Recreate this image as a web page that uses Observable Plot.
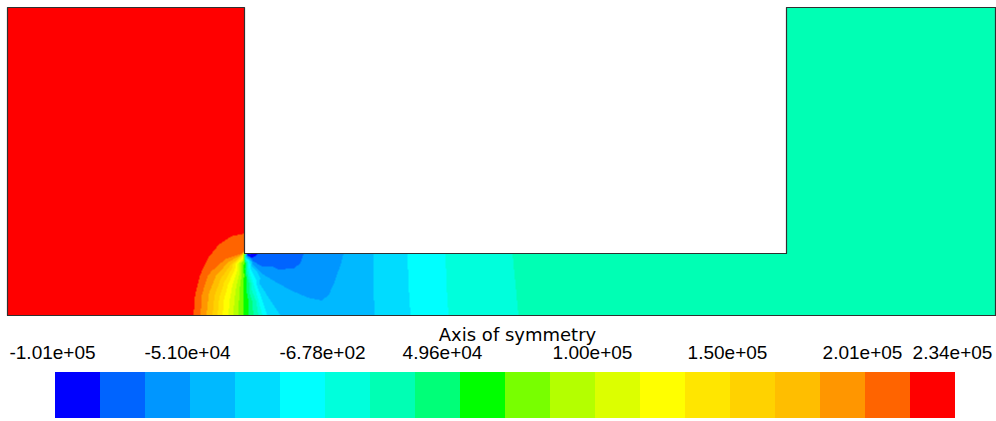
<!DOCTYPE html>
<html><head><meta charset="utf-8">
<script src="https://cdn.jsdelivr.net/npm/d3@7"></script>
<script src="https://cdn.jsdelivr.net/npm/@observablehq/plot@0.6"></script>
<style>
html,body{margin:0;padding:0;background:#fff;}
#chart svg{display:block;}
</style></head><body><div id="chart"></div>
<script>
// ---- Colour bar (static pressure, Pa) ----
const pressureMin = -101200;
const pressureMax = 234000;
const bandCount = 20;
const bandColors = ["#0000ff","#0064ff","#0096ff","#00b9ff","#00dcff","#00ffff","#00ffdc","#00ffb4","#00ff78","#00ff00",
                    "#78ff00","#b4ff00","#dcff00","#ffff00","#ffe600","#ffd200","#ffbe00","#ff9600","#ff6400","#ff0000"];
const tickLabels = ["-1.01e+05","-5.10e+04","-6.78e+02","4.96e+04","1.00e+05","1.50e+05","2.01e+05","2.34e+05"];
const tickBandIndex = [0, 3, 6, 9, 12, 15, 18, 20];
const boundaryLabel = "Axis of symmetry";

// ---- Geometry (mm) ----
const domainLength = 988, domainHeight = 308;
const stepStartX = 237, stepEndX = 779, channelHeight = 62;
const outlineX = [0, 0, 237, 237, 779, 779, 988, 988, 0];
const outlineY = [0, 308, 308, 62, 62, 308, 308, 0, 0];

// ---- Contour lines: level (Pa) and points [x mm, y mm] ----
const isoLevels = [217240, 200480, 183720, 166960, 150200, 133440, 116680, 99920, 83160, 66400,
                   49640, 32880, 16120, -640, -17400, -34160, -50920, -67680, -84440,
                   -34160, -17400, -640, 16120];
const isoPaths = [
  [[237,82],[223.8,79.2],[211.5,71],[200.9,58],[192.8,41],[187.7,21.2],[186,0]],
  [[234,61.7],[217.8,56.4],[204,44.2],[195.8,25.4],[193,0]],
  [[234.2,61],[220.4,53],[208.5,39.6],[201.4,22],[199,0]],
  [[234.5,60.4],[223,50.6],[213,36.5],[207,19.6],[205,0]],
  [[234.8,59.9],[225.2,48.3],[216.8,33.5],[211.7,17.3],[210,0]],
  [[235.3,59.5],[227.4,46.4],[220.5,30.8],[216.4,15.4],[215,0]],
  [[235.7,59.3],[230,45.8],[225,30.1],[222,14.8],[221,0]],
  [[236.1,59.1],[232.2,45.4],[228.8,29.6],[226.7,14.4],[226,0]],
  [[236.5,59],[234.4,45.4],[232.5,29.5],[231.4,14.4],[231,0]],
  [[236.9,59],[236.7,53],[236.3,35],[236,17],[236,0]],
  [[237.1,59],[237.5,53],[239,35],[240.5,17],[241,0]],
  [[237.3,59],[239,47],[242,31],[244.5,15],[246,0]],
  [[237.5,59],[240,47],[244.5,31],[248.5,15],[251,0]],
  [[237.7,59.1],[241.5,47],[246,31],[251,15],[255,0]],
  [[238,59.2],[243,47],[249,31],[255,15],[260,0]],
  [[238.4,59.4],[244,49],[252,32],[263,15],[273,0]],
  [[238.8,59.6],[246,50],[256,41],[269,33],[284,25],[300,18],[314,15],[321,20],[326,31],[331,45],[334,54],[336,62]],
  [[239.2,60],[245.9,54],[255,49],[271,46],[286,47],[293,52],[296,62]],
  [[239.6,60.5],[244,58],[248,59],[250,62]],
  [[366,62],[366,31],[367,0]],
  [[400,62],[401,31],[403,0]],
  [[438,62],[439,31],[441,0]],
  [[505,62],[508,31],[511,0]]
];

// ---- Point readings inside bands: [x mm, y mm, p Pa] ----
const pointReadings = [
  [0,0,234000],[0,150,234000],[0,308,234000],[93,0,234000],[143,0,234000],[170,20,234000],[60,230,234000],
  [120,150,234000],[150,60,234000],[170,100,234000],[215,90,234000],[237,90,234000],[237,150,234000],
  [237,200,234000],[237,308,234000],[120,308,234000],[60,60,234000],
  [237,65,203830],[237,73,210540],
  [240,62,-97800],[243,61,-96000],
  [263,62,-77700],[281,62,-74400],[268,55,-76060],[283,56,-74400],
  [316,62,-59300],[313,50,-59300],[311,32,-57600],[298,35,-59300],[321,53,-59300],[262,43,-59300],
  [351,62,-42540],[348,47,-42540],[343,20,-40860],[318,6,-39190],[293,9,-40860],[278,13,-42540],
  [293,0,-40860],[323,0,-39190],[348,0,-37510],
  [383,62,-25780],[383,31,-25780],[384,0,-25780],[419,62,-9020],[420,31,-9020],[422,0,-9020],
  [471,62,7740],[473,31,7740],[475,0,7740],
  [553,62,24500],[553,31,24500],[555,0,24500],[650,62,24500],[650,31,24500],[650,0,24500],
  [779,62,24500],[779,0,24500],[779,180,24500],[779,308,24500],[880,308,24500],[880,150,24500],
  [880,0,24500],[988,0,24500],[988,150,24500],[988,308,24500]
];

// ---- Build tables ----
const samples = [];
isoPaths.forEach((path, i) => path.forEach(([x, y]) => samples.push({x, y, p: isoLevels[i]})));
pointReadings.forEach(([x, y, p]) => samples.push({x, y, p}));
const bandWidth = (pressureMax - pressureMin) / bandCount;
const edges = d3.range(1, bandCount).map(k => pressureMin + k * bandWidth);
const colorScale = {type: "threshold", domain: edges, range: bandColors};
const outline = outlineX.map((x, i) => ({x, y: outlineY[i]}));
const step = [{x1: stepStartX, x2: stepEndX, y1: channelHeight, y2: domainHeight}];

const main = Plot.plot({
  width: 996, height: 318,
  marginLeft: 7, marginRight: 1, marginTop: 7, marginBottom: 3,
  x: {domain: [0, domainLength], axis: null},
  y: {domain: [0, domainHeight], axis: null},
  color: colorScale,
  marks: [
    Plot.raster(samples, {x: "x", y: "y", fill: "p", interpolate: "barycentric",
      x1: 0, y1: 0, x2: domainLength, y2: domainHeight, pixelSize: 1}),
    Plot.rect(step, {x1: "x1", x2: "x2", y1: "y1", y2: "y2", fill: "white"}),
    Plot.line(outline, {x: "x", y: "y", stroke: "#303030", strokeWidth: 1.2})
  ]
});

const bands = d3.range(bandCount);
const labelFont = "Liberation Sans, Arial, sans-serif";
const legend = Plot.plot({
  width: 996, height: 103,
  marginLeft: 55, marginRight: 41, marginTop: 54, marginBottom: 3,
  x: {domain: [0, bandCount], axis: null},
  y: {domain: [0, 1], axis: null},
  color: colorScale,
  marks: [
    Plot.rect(bands, {x1: i => i, x2: i => i + 1, y1: 0, y2: 1, fill: i => pressureMin + (i + 0.5) * bandWidth}),
    Plot.text(tickLabels, {x: (d, i) => tickBandIndex[i], y: 1, text: d => d, filter: (d, i) => i !== 3,
      dx: -3, dy: -14, lineAnchor: "bottom", fontFamily: labelFont, fontSize: 19, fill: "#000"}),
    Plot.text(tickLabels, {x: (d, i) => tickBandIndex[i], y: 1, text: d => d, filter: (d, i) => i === 3,
      dx: -18, dy: -14, lineAnchor: "bottom", fontFamily: labelFont, fontSize: 19, fill: "#000"}),
    Plot.text([boundaryLabel], {frameAnchor: "top", text: d => d, dx: 12, dy: -32, lineAnchor: "bottom",
      fontFamily: "DejaVu Sans, sans-serif", fontSize: 18, fill: "#000"})
  ]
});

document.getElementById("chart").append(main, legend);
</script>
</body></html>
